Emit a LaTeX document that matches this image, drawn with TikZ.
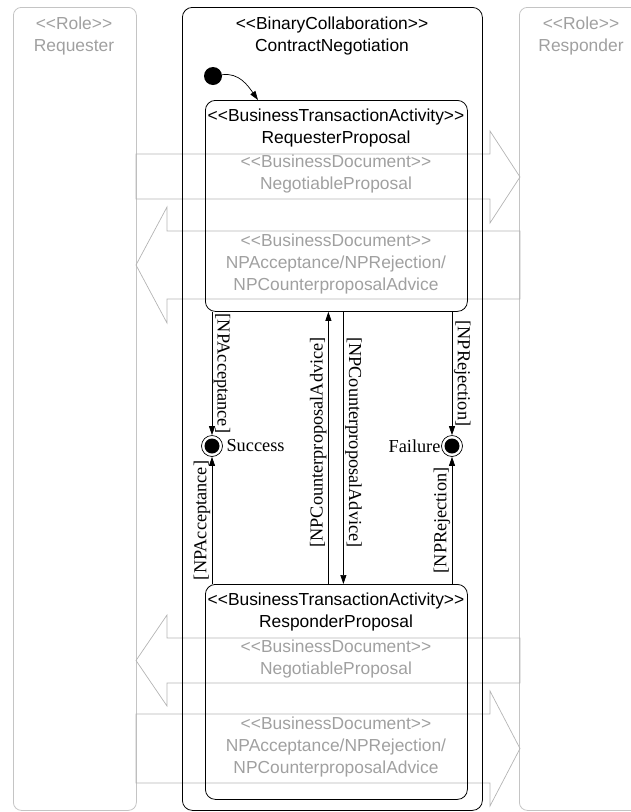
\documentclass[tikz,border=0pt]{standalone}
\usepackage{fontspec}
\setmainfont{Liberation Sans}
\newfontfamily\guardfont{Liberation Serif}
\usetikzlibrary{positioning,arrows.meta,calc}
\definecolor{lanegray}{RGB}{196,196,196}
\definecolor{docgray}{RGB}{180,180,180}
\definecolor{doctext}{RGB}{160,160,160}
\newcommand{\stereo}[1]{<\kern0pt<#1>\kern0pt>}
\tikzset{
  rolebox/.style ={draw=lanegray, line width=0.8pt, rounded corners=8pt, anchor=north west, inner sep=0pt},
  collab/.style  ={draw=black, line width=0.8pt, rounded corners=10pt, anchor=north west, inner sep=0pt},
  activity/.style={draw=black, line width=0.8pt, rounded corners=10pt, anchor=north west, inner sep=0pt,
                   minimum width=262pt},
  boxtxt/.style  ={align=center, inner sep=0pt, font=\fontsize{17.4}{22}\selectfont},
  doctxt/.style  ={boxtxt, text=doctext},
  docarr/.style  ={draw=docgray, line width=0.7pt},
  trans/.style   ={-{Triangle[length=9pt,width=6pt]}, draw=black, line width=0.7pt},
  guard/.style   ={font=\guardfont\fontsize{18.3}{20}\selectfont, inner sep=1.5pt},
  initst/.style  ={circle, fill=black, minimum size=18pt, inner sep=0pt},
  finalst/.style ={circle, draw=black, line width=0.7pt, minimum size=21pt, inner sep=0pt,
                   path picture={\fill[black] (path picture bounding box.center) circle (7.5pt);}},
}
\begin{document}
\begin{tikzpicture}[x=1pt,y=-1pt]
\clip (0,0) rectangle (631,812);
% role lanes
\node[rolebox, minimum width=123pt, minimum height=803pt] (req) at (13,7) {};
\node[rolebox, minimum width=140pt, minimum height=803pt] (rsp) at (519,7) {};
\node[doctxt] (reqtxt) at (74,36) {\stereo{Role}\\Requester};
\node[doctxt] (rsptxt) at (581,36) {\stereo{Role}\\Responder};

% business documents
\draw[docarr] (136,154) -- (490,154) -- (490,131) -- (520,177) -- (490,223) -- (490,199) -- (136,199) -- cycle;
\draw[docarr] (520,231) -- (167,231) -- (167,207) -- (136,265) -- (167,323) -- (167,299) -- (520,299) -- cycle;
\draw[docarr] (520,638) -- (167,638) -- (167,615) -- (136,660.5) -- (167,706) -- (167,683) -- (520,683) -- cycle;
\draw[docarr] (136,714) -- (490,714) -- (490,691) -- (520,748.5) -- (490,806) -- (490,783) -- (136,783) -- cycle;
\node[doctxt] (doc1) at (336,174) {\stereo{BusinessDocument}\\NegotiableProposal};
\node[doctxt] (doc2) at (336,264) {\stereo{BusinessDocument}\\NPAcceptance/NPRejection/\\NPCounterproposalAdvice};
\node[doctxt] (doc3) at (336,659) {\stereo{BusinessDocument}\\NegotiableProposal};
\node[doctxt] (doc4) at (336,747) {\stereo{BusinessDocument}\\NPAcceptance/NPRejection/\\NPCounterproposalAdvice};

% collaboration and activities
\node[collab, minimum width=300pt, minimum height=803pt] (bc) at (182,7) {};
\node[boxtxt] (bctxt) at (332,36) {\stereo{BinaryCollaboration}\\ContractNegotiation};
\node[activity, minimum height=211pt] (rp) at (205,100) {};
\node[activity, minimum height=215pt] (resp) at (205,584) {};
\node[boxtxt] (rptxt) at (336,128) {\stereo{BusinessTransactionActivity}\\RequesterProposal};
\node[boxtxt] (resptxt) at (336,612) {\stereo{BusinessTransactionActivity}\\ResponderProposal};

% states
\node[initst] (init) at (213,76) {};
\coordinate (rpin) at ($(rp.north west)+(53,0)$);
\node[finalst] (succ) at (212,446) {};
\node[finalst] (fail) at (452,446) {};
\node[guard, right=2pt of succ] (succtxt) {Success};
\node[guard, left=-1pt of fail] (failtxt) {Failure};

% transitions
\draw[trans] (init) to[out=8,in=125] (rpin);
\draw[trans] (rp.south -| succ) -- (succ) node[guard,midway,sloped,above] (g1) {[NPAcceptance]};
\draw[trans] (resp.north -| succ) -- (succ) node[guard,midway,sloped,above] (g2) {[NPAcceptance]};
\draw[trans] ([xshift=-8pt]resp.north) -- ([xshift=-8pt]rp.south)
   node[guard,pos=0.52,sloped,above] (g3) {[NPCounterproposalAdvice]};
\draw[trans] ([xshift=7pt]rp.south) -- ([xshift=7pt]resp.north)
   node[guard,pos=0.48,sloped,above] (g4) {[NPCounterproposalAdvice]};
\draw[trans] (rp.south -| fail) -- (fail) node[guard,midway,sloped,above] (g5) {[NPRejection]};
\draw[trans] (resp.north -| fail) -- (fail) node[guard,midway,sloped,above] (g6) {[NPRejection]};
\end{tikzpicture}
\end{document}
